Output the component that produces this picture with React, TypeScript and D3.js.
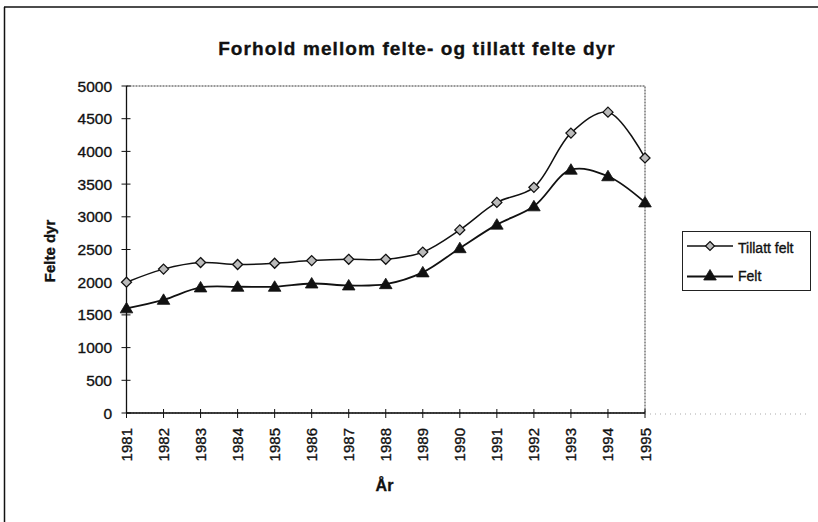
import React from "react";
import * as d3 from "d3";

const years = [1981, 1982, 1983, 1984, 1985, 1986, 1987, 1988, 1989, 1990, 1991, 1992, 1993, 1994, 1995];
const tillattFelt = [2000, 2200, 2300, 2270, 2290, 2330, 2350, 2350, 2460, 2800, 3220, 3450, 4280, 4600, 3900];
const felt = [1600, 1730, 1920, 1930, 1930, 1980, 1950, 1970, 2150, 2520, 2880, 3160, 3720, 3620, 3220];
const yTicks = [0, 500, 1000, 1500, 2000, 2500, 3000, 3500, 4000, 4500, 5000];

const title = "Forhold mellom felte- og tillatt felte dyr";
const yLabel = "Felte dyr";
const xLabel = "År";
const seriesNames = ["Tillatt felt", "Felt"];

const FONT = "'Liberation Sans', Arial, sans-serif";

export default function App() {
  const W = 818, H = 522;
  const left = 126.5, right = 645, top = 86, bottom = 413;
  const x = d3.scaleLinear().domain([years[0], years[years.length - 1]]).range([left, right]);
  const y = d3.scaleLinear().domain([0, 5000]).range([bottom, top]);
  const line = d3
    .line<number>()
    .x((_, i) => x(years[i]))
    .y((d) => y(d))
    .curve(d3.curveCatmullRom.alpha(0.5));

  const diamond = (cx: number, cy: number, r: number) =>
    `M${cx},${cy - r}L${cx + r},${cy}L${cx},${cy + r}L${cx - r},${cy}Z`;
  const tri = (cx: number, cy: number, r: number) =>
    `M${cx},${cy - r}L${cx + r * 1.05},${cy + r * 0.75}L${cx - r * 1.05},${cy + r * 0.75}Z`;

  const thick = { stroke: "#111", strokeWidth: 0.35 };

  return (
    <svg width={W} height={H} style={{ position: "absolute", left: 0, top: 0, background: "#fff" }}>
      <rect x={0} y={0} width={W} height={H} fill="#fff" />
      {/* outer frame */}
      <line x1={4} y1={7} x2={W} y2={7} stroke="#111" strokeWidth={1.5} />
      <line x1={4.5} y1={7} x2={4.5} y2={H} stroke="#111" strokeWidth={1.5} />

      <text x={417} y={55} textAnchor="middle" fontFamily={FONT} fontWeight="bold" fontSize={19} letterSpacing={1.1} fill="#111" {...thick}>
        {title}
      </text>

      {/* plot area border */}
      <rect x={left} y={top} width={right - left} height={bottom - top} fill="none" stroke="#333" strokeWidth={1} strokeDasharray="2,1" />
      {/* light dotted extension */}
      <line x1={right} y1={bottom + 1} x2={810} y2={bottom + 1} stroke="#aaa" strokeWidth={1} strokeDasharray="1,4" />

      {/* axes */}
      <line x1={left} y1={top} x2={left} y2={bottom} stroke="#111" strokeWidth={1.3} />
      <line x1={left} y1={bottom} x2={right} y2={bottom} stroke="#111" strokeWidth={1.3} />
      {yTicks.map((t) => (
        <g key={t}>
          <line x1={left - 5} x2={left + 4} y1={y(t)} y2={y(t)} stroke="#111" strokeWidth={1} />
          <text x={112} y={y(t) + 5.5} textAnchor="end" fontFamily={FONT} fontSize={15.5} fill="#111" {...thick}>
            {t}
          </text>
        </g>
      ))}
      {years.map((yr) => (
        <g key={yr}>
          <line x1={x(yr)} x2={x(yr)} y1={bottom - 4} y2={bottom + 5} stroke="#111" strokeWidth={1} />
          <text
            transform={`translate(${x(yr) + 5.5},${428}) rotate(-90)`}
            textAnchor="end"
            fontFamily={FONT}
            fontSize={15}
            fill="#111"
            {...thick}
          >
            {yr}
          </text>
        </g>
      ))}

      <text transform={`translate(55,251) rotate(-90)`} textAnchor="middle" fontFamily={FONT} fontWeight="bold" fontSize={15} fill="#111" {...thick}>
        {yLabel}
      </text>
      <text x={384.5} y={491} textAnchor="middle" fontFamily={FONT} fontWeight="bold" fontSize={16} fill="#111" {...thick}>
        {xLabel}
      </text>

      {/* lines */}
      <path d={line(tillattFelt) || ""} fill="none" stroke="#111" strokeWidth={1.5} />
      <path d={line(felt) || ""} fill="none" stroke="#111" strokeWidth={1.8} />
      {tillattFelt.map((v, i) => (
        <path key={"t" + i} d={diamond(x(years[i]), y(v), 5)} fill="#bbb" stroke="#111" strokeWidth={1.3} />
      ))}
      {felt.map((v, i) => (
        <path key={"f" + i} d={tri(x(years[i]), y(v), 6)} fill="#111" stroke="#111" strokeWidth={0.8} />
      ))}

      {/* legend */}
      <rect x={682.5} y={231.5} width={128} height={59} fill="#fff" stroke="#222" strokeWidth={1} />
      <line x1={687} x2={733} y1={246} y2={246} stroke="#111" strokeWidth={1.5} />
      <path d={diamond(710, 246, 4.5)} fill="#bbb" stroke="#111" strokeWidth={1.2} />
      <text x={738} y={252.5} fontFamily={FONT} fontSize={14} fill="#111" {...thick}>{seriesNames[0]}</text>
      <line x1={687} x2={733} y1={276.5} y2={276.5} stroke="#111" strokeWidth={1.8} />
      <path d={tri(710, 275.5, 6)} fill="#111" stroke="#111" strokeWidth={0.8} />
      <text x={738} y={281} fontFamily={FONT} fontSize={14} fill="#111" {...thick}>{seriesNames[1]}</text>
    </svg>
  );
}
